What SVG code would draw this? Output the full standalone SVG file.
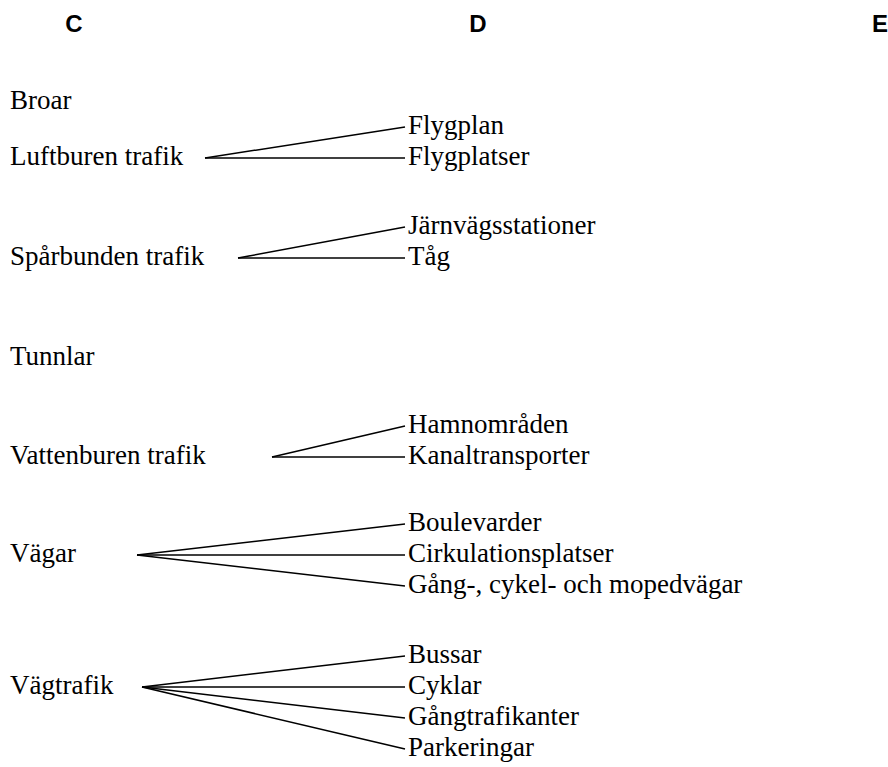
<svg xmlns="http://www.w3.org/2000/svg" width="888" height="767" viewBox="0 0 888 767">
<style>
.h{font-family:"Liberation Sans",Arial,sans-serif;font-weight:bold;font-size:24px;fill:#000;text-anchor:middle}
.t{font-family:"Liberation Serif","Times New Roman",serif;font-size:27px;fill:#000}
.c line{stroke:#000;stroke-width:1.5}
</style>
<rect width="888" height="767" fill="#fff"/>
<g id="headers">
<text class="h" x="74" y="32">C</text>
<text class="h" x="478" y="32">D</text>
<text class="h" x="880" y="32">E</text>
</g>
<g id="n-broar"><text class="t" x="10" y="109">Broar</text></g>
<g id="n-luftburen"><text class="t" x="10" y="165">Luftburen trafik</text></g>
<g id="n-flygplan"><text class="t" x="408" y="134">Flygplan</text></g>
<g id="n-flygplatser"><text class="t" x="408" y="165">Flygplatser</text></g>
<g id="n-sparbunden"><text class="t" x="10" y="265">Spårbunden trafik</text></g>
<g id="n-jarnvag"><text class="t" x="408" y="234">Järnvägsstationer</text></g>
<g id="n-tag"><text class="t" x="408" y="265">Tåg</text></g>
<g id="n-tunnlar"><text class="t" x="10" y="365">Tunnlar</text></g>
<g id="n-vattenburen"><text class="t" x="10" y="464">Vattenburen trafik</text></g>
<g id="n-hamn"><text class="t" x="408" y="433">Hamnområden</text></g>
<g id="n-kanal"><text class="t" x="408" y="464">Kanaltransporter</text></g>
<g id="n-vagar"><text class="t" x="10" y="562">Vägar</text></g>
<g id="n-boulevarder"><text class="t" x="408" y="531">Boulevarder</text></g>
<g id="n-cirk"><text class="t" x="408" y="562">Cirkulationsplatser</text></g>
<g id="n-gang"><text class="t" x="408" y="593">Gång-, cykel- och mopedvägar</text></g>
<g id="n-vagtrafik"><text class="t" x="10" y="694">Vägtrafik</text></g>
<g id="n-bussar"><text class="t" x="408" y="663">Bussar</text></g>
<g id="n-cyklar"><text class="t" x="408" y="694">Cyklar</text></g>
<g id="n-gangtrafikanter"><text class="t" x="408" y="725">Gångtrafikanter</text></g>
<g id="n-parkeringar"><text class="t" x="408" y="756">Parkeringar</text></g>
<g id="connectors" class="c">
<line x1="205" y1="158" x2="405" y2="127"/>
<line x1="205" y1="158" x2="405" y2="158"/>
<line x1="238" y1="258" x2="405" y2="227"/>
<line x1="238" y1="258" x2="405" y2="258"/>
<line x1="272" y1="457" x2="405" y2="426"/>
<line x1="272" y1="457" x2="405" y2="457"/>
<line x1="137" y1="555" x2="405" y2="524"/>
<line x1="137" y1="555" x2="405" y2="555"/>
<line x1="137" y1="555" x2="405" y2="586"/>
<line x1="142" y1="687" x2="405" y2="656"/>
<line x1="142" y1="687" x2="405" y2="687"/>
<line x1="142" y1="687" x2="405" y2="718"/>
<line x1="142" y1="687" x2="405" y2="749"/>
</g>
</svg>
